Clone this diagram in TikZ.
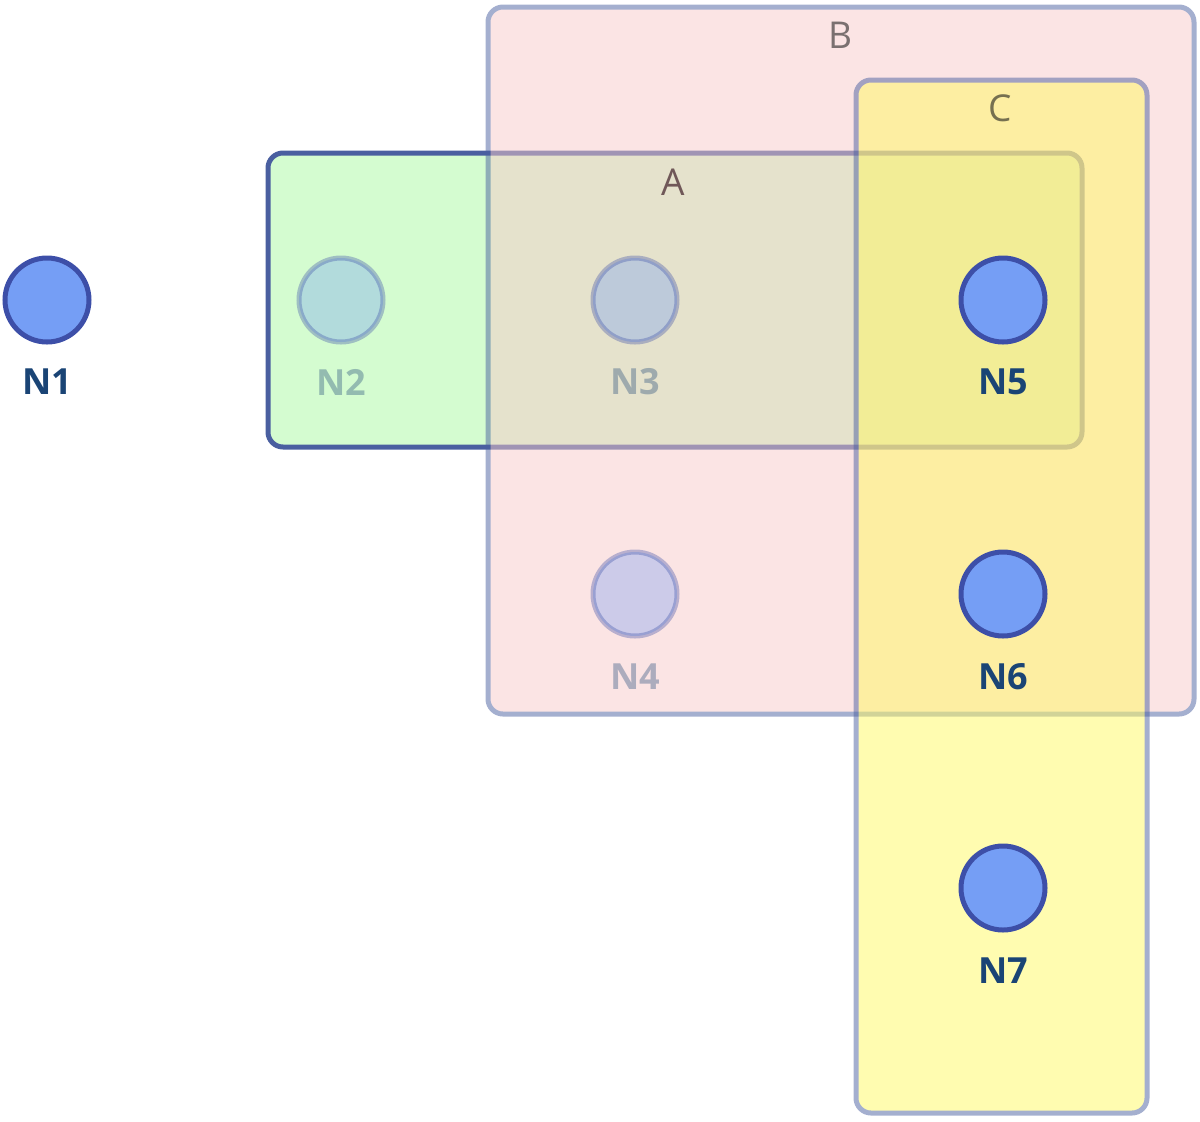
\documentclass[tikz,border=0pt]{standalone}
\usepackage{fontspec}
\setmainfont{Open Sans}
\definecolor{grpstroke}{HTML}{4A5FA0}
\definecolor{afill}{HTML}{D4FCD0}
\definecolor{bfill}{HTML}{F7C9C9}
\definecolor{cfill}{HTML}{FFF961}
\definecolor{nfill}{HTML}{759EF5}
\definecolor{nstroke}{HTML}{3D4FA8}
\definecolor{ntext}{HTML}{1A4475}
\definecolor{glabA}{HTML}{705858}
\definecolor{glabB}{HTML}{7A7070}
\definecolor{glabC}{HTML}{767050}
\tikzset{
  grp/.style={draw=grpstroke, line width=2.5pt, rounded corners=7.5pt, inner sep=0pt, outer sep=0pt, rectangle},
  vert/.style={circle, draw=nstroke, fill=nfill, line width=2.5pt, minimum size=42pt, inner sep=0pt},
  vlab/.style={text=ntext, font=\fontsize{18}{20}\selectfont\bfseries, inner sep=0pt, anchor=center},
  glab/.style={font=\fontsize{18.5}{20}\selectfont, inner sep=0pt, anchor=center},
  faded/.style={opacity=0.35}
}
\begin{document}
\begin{tikzpicture}[x=0.5pt,y=-0.5pt]
\useasboundingbox (0,0) rectangle (1200,1121);
% group A (opaque)
\node[grp, fill=afill, minimum width=407pt, minimum height=147pt] (A) at (675,300) {};
% group B
\begin{scope}[transparency group, opacity=0.5]
\node[grp, fill=bfill, minimum width=353pt, minimum height=353.5pt] (B) at (841,360.5) {};
\end{scope}
% group C
\begin{scope}[transparency group, opacity=0.5]
\node[grp, fill=cfill, minimum width=145.5pt, minimum height=516.5pt] (C) at (1001.5,596.5) {};
\end{scope}
% group labels
\node[glab, text=glabA] (labA) at (673,182) {A};
\node[glab, text=glabB] (labB) at (840,35) {B};
\node[glab, text=glabC] (labC) at (1000,108) {C};
% vertices
\node[vert] (N1) at (47,300) {};
\node[vlab] (lN1) at (47,382) {N1};
\begin{scope}[faded]
\node[vert] (N2) at (341,300) {};
\node[vlab] (lN2) at (341,382) {N2};
\node[vert] (N3) at (635,300) {};
\node[vlab] (lN3) at (635,382) {N3};
\node[vert] (N4) at (635,594) {};
\node[vlab] (lN4) at (635,677) {N4};
\end{scope}
\node[vert] (N5) at (1003,300) {};
\node[vlab] (lN5) at (1003,382) {N5};
\node[vert] (N6) at (1003,594) {};
\node[vlab] (lN6) at (1003,677) {N6};
\node[vert] (N7) at (1003,888) {};
\node[vlab] (lN7) at (1003,971) {N7};
\end{tikzpicture}
\end{document}
